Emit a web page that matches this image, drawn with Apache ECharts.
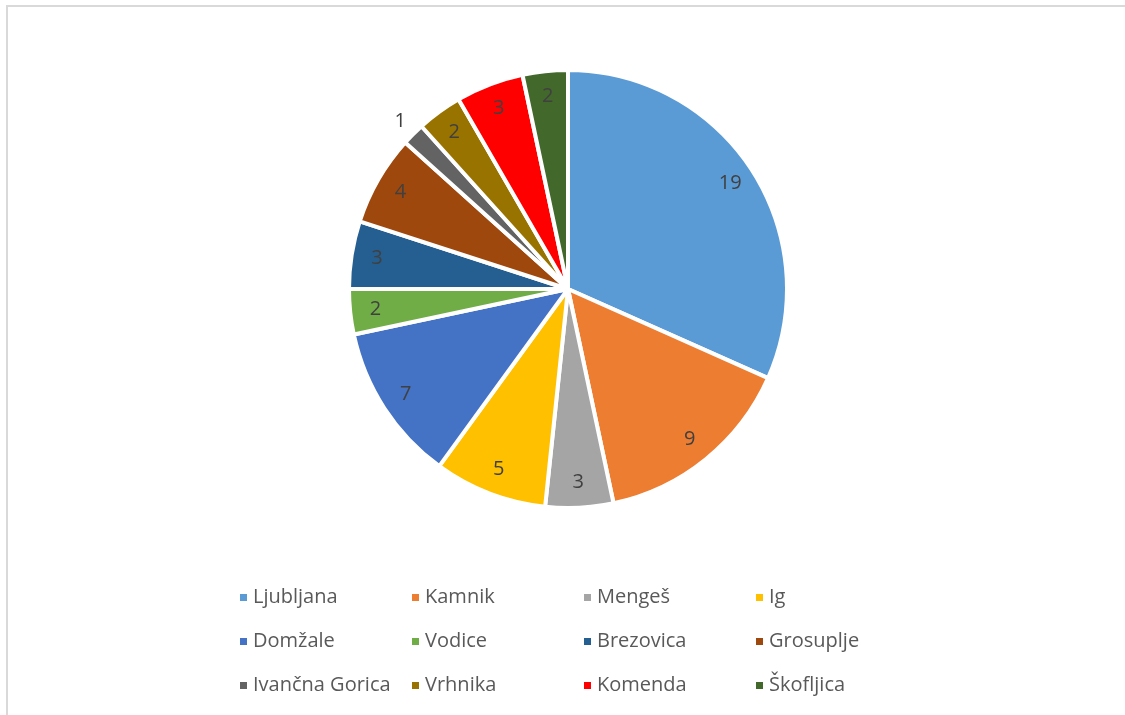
<!DOCTYPE html>
<html>
<head>
<meta charset="utf-8">
<script src="https://cdn.jsdelivr.net/npm/echarts@6/dist/echarts.min.js"></script>
<style>
  html, body { margin: 0; padding: 0; background: #ffffff; }
  #frame {
    position: absolute; left: 6px; top: 5px; width: 1119px; height: 710px;
    border-top: 2px solid #d9d9d9; border-left: 2px solid #d9d9d9;
  }
  #chart { position: absolute; left: 0; top: 0; width: 1125px; height: 715px; }
</style>
</head>
<body>
<div id="frame"></div>
<div id="chart"></div>
<script>
// Municipalities and counts
const municipalities = ['Ljubljana', 'Kamnik', 'Mengeš', 'Ig', 'Domžale', 'Vodice',
  'Brezovica', 'Grosuplje', 'Ivančna Gorica', 'Vrhnika', 'Komenda', 'Škofljica'];
const counts = [19, 9, 3, 5, 7, 2, 3, 4, 1, 2, 3, 2];
const sliceColors = ['#5B9BD5', '#ED7D31', '#A5A5A5', '#FFC000', '#4472C4', '#70AD47',
  '#255E91', '#9E480E', '#636363', '#997300', '#FF0000', '#43682B'];
// Small slices whose value label sits outside the pie
const outsideLabels = ['Ivančna Gorica'];

const center = [568, 289];
const pieRadius = 219;
const fontFamily = '"Open Sans", "Liberation Sans", sans-serif';

const pieData = municipalities.map((name, i) => ({
  name, value: counts[i], itemStyle: { color: sliceColors[i] }
}));

// Transparent companion rings carry the value labels:
// an inside label sits at half of a ring's radius.
function labelRing(radius, showFn) {
  return {
    type: 'pie',
    center, radius: radius,
    startAngle: 90, clockwise: true,
    silent: true, animation: false,
    legendHoverLink: false,
    itemStyle: { color: 'rgba(0,0,0,0)', borderWidth: 0 },
    emphasis: { disabled: true },
    labelLine: { show: false },
    data: municipalities.map((name, i) => ({
      name, value: counts[i],
      itemStyle: { color: 'rgba(0,0,0,0)' },
      label: {
        show: showFn(name),
        position: 'inside',
        formatter: '{c}',
        color: '#404040',
        fontSize: 20,
        fontFamily
      }
    }))
  };
}

const chart = echarts.init(document.getElementById('chart'), null, { renderer: 'canvas' });
chart.setOption({
  backgroundColor: 'transparent',
  animation: false,
  legend: {
    data: municipalities,
    left: 233, top: 573, width: 720,
    orient: 'horizontal',
    icon: 'rect', itemWidth: 9, itemHeight: 9,
    itemGap: 5,
    textStyle: {
      color: '#595959', fontSize: 20, fontFamily,
      width: 152, lineHeight: 39, padding: [0, 0, 0, 0]
    }
  },
  series: [
    {
      type: 'pie',
      center, radius: pieRadius,
      startAngle: 90, clockwise: true,
      animation: false,
      itemStyle: { borderColor: '#ffffff', borderWidth: 4 },
      label: { show: false },
      labelLine: { show: false },
      data: pieData
    },
    labelRing(pieRadius * 1.74, name => outsideLabels.indexOf(name) < 0),
    labelRing(pieRadius * 2.14, name => outsideLabels.indexOf(name) >= 0)
  ]
});
</script>
</body>
</html>
